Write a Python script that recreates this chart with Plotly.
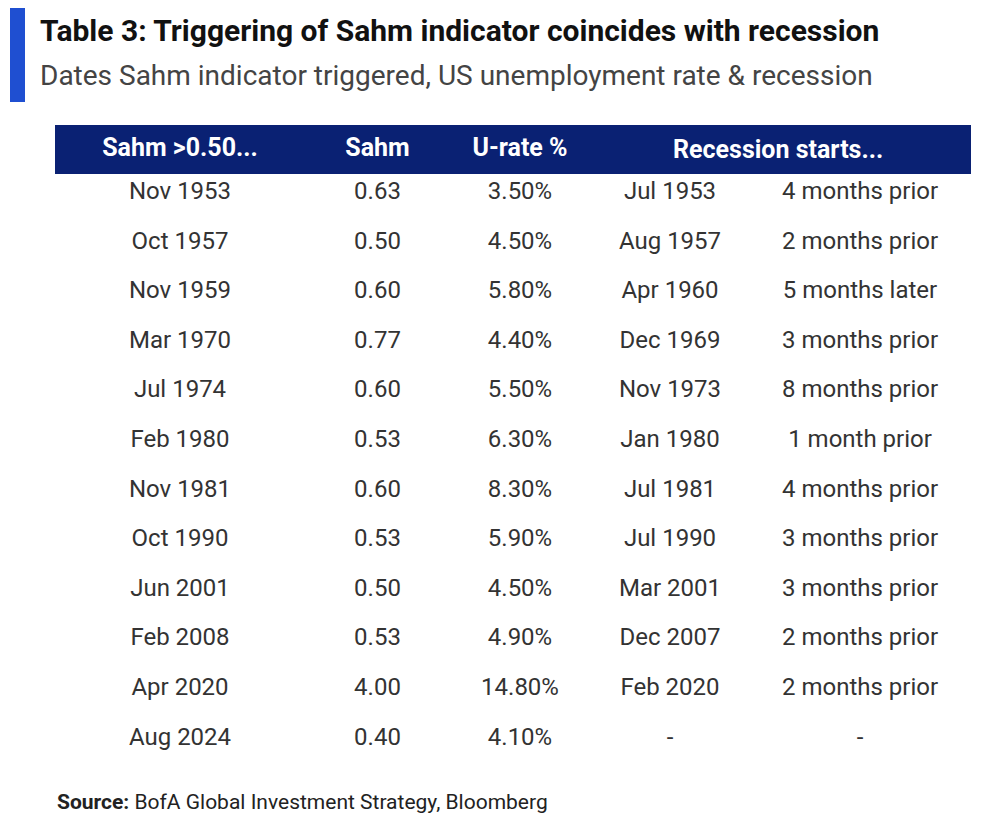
import plotly.graph_objects as go

trigger = ["Nov 1953","Oct 1957","Nov 1959","Mar 1970","Jul 1974","Feb 1980","Nov 1981","Oct 1990","Jun 2001","Feb 2008","Apr 2020","Aug 2024"]
sahm = ["0.63","0.50","0.60","0.77","0.60","0.53","0.60","0.53","0.50","0.53","4.00","0.40"]
urate = ["3.50%","4.50%","5.80%","4.40%","5.50%","6.30%","8.30%","5.90%","4.50%","4.90%","14.80%","4.10%"]
rec_start = ["Jul 1953","Aug 1957","Apr 1960","Dec 1969","Nov 1973","Jan 1980","Jul 1981","Jul 1990","Mar 2001","Dec 2007","Feb 2020","-"]
lag = ["4 months prior","2 months prior","5 months later","3 months prior","8 months prior","1 month prior","4 months prior","3 months prior","3 months prior","2 months prior","2 months prior","-"]
headers = ["Sahm >0.50...","Sahm","U-rate %","",""]
rec_header = "Recession starts..."

W, H = 988, 821
O = 8  # page offset
NAVY = "#0a2173"
FONT = "Roboto"

def px(x): return (x - O) / W
def py(y): return 1 - (y - O) / H

fig = go.Figure(go.Table(
    domain=dict(x=[px(55), px(970)], y=[py(770), py(125)]),
    columnwidth=[250,145,140,160,220],
    header=dict(values=[f"<b>{h}</b>" for h in headers], fill_color=NAVY, line_color=NAVY,
                font=dict(color="white", size=25, family=FONT), align="center", height=48),
    cells=dict(values=[trigger, sahm, urate, rec_start, lag], fill_color="white", line_color="white",
               font=dict(color="#333333", size=24, family=FONT), align="center", height=49.6),
))

fig.add_shape(type="rect", xref="paper", yref="paper", x0=px(10), x1=px(25), y0=py(102), y1=py(8),
              fillcolor="#1f4fd1", line_width=0)
fig.add_annotation(x=px(38), y=py(30), xref="paper", yref="paper", xanchor="left", yanchor="middle",
                   text="<b>Table 3: Triggering of Sahm indicator coincides with recession</b>",
                   showarrow=False, font=dict(size=30, family=FONT, color="#111111"))
fig.add_annotation(x=px(38), y=py(75), xref="paper", yref="paper", xanchor="left", yanchor="middle",
                   text="Dates Sahm indicator triggered, US unemployment rate & recession",
                   showarrow=False, font=dict(size=28, family=FONT, color="#444444"))
fig.add_annotation(x=px(778), y=py(150), xref="paper", yref="paper", xanchor="center", yanchor="middle",
                   text=f"<b>{rec_header}</b>", showarrow=False, font=dict(size=25, family=FONT, color="white"))
fig.add_annotation(x=px(55), y=py(802), xref="paper", yref="paper", xanchor="left", yanchor="middle",
                   text="<b>Source:</b> BofA Global Investment Strategy, Bloomberg",
                   showarrow=False, font=dict(size=21, family=FONT, color="#222222"))

fig.update_layout(width=W, height=H, margin=dict(l=0, r=0, t=0, b=0),
                  paper_bgcolor="white", plot_bgcolor="white")
fig.write_html("out.html")
